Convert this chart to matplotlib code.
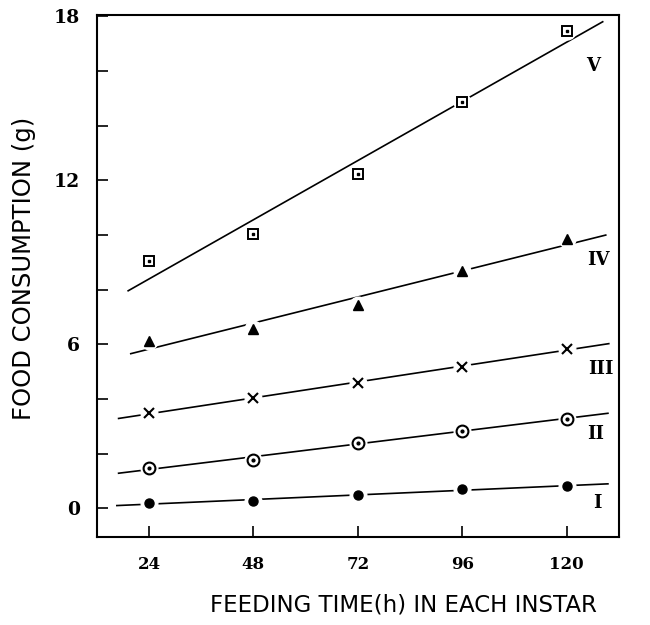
import numpy as np
import matplotlib
matplotlib.use('Agg')
import matplotlib.pyplot as plt

# feeding time (h) and food consumption (g) for each instar
hours = [24, 48, 72, 96, 120]
instar_1 = [0.18, 0.27, 0.47, 0.70, 0.81]
instar_2 = [1.47, 1.78, 2.39, 2.84, 3.28]
instar_3 = [3.50, 4.02, 4.57, 5.17, 5.84]
instar_4 = [6.13, 6.56, 7.44, 8.68, 9.84]
instar_5 = [9.04, 10.03, 12.22, 14.87, 17.45]
labels = ['I', 'II', 'III', 'IV', 'V']

series = [instar_1, instar_2, instar_3, instar_4, instar_5]
line_start = [16.6, 17.0, 17.0, 19.8, 19.2]
line_end = [129.5, 129.5, 129.7, 129.0, 128.3]
label_pos = [(127, 0.18), (126.7, 2.73), (127.8, 5.1), (127.4, 9.1), (126, 16.2)]

fig = plt.figure(figsize=(6.5, 6.25), dpi=100)
ax = fig.add_axes([0.149, 0.141, 0.803, 0.835])

x = np.array(hours)
for i, ys in enumerate(series):
    ys = np.array(ys)
    slope, icpt = np.polyfit(x, ys, 1)
    xx = np.array([line_start[i], line_end[i]])
    ax.plot(xx, slope * xx + icpt, color='black', lw=1.2, zorder=1)
    # white halo so the line breaks around each marker
    ax.plot(x, ys, ls='none', marker='o', ms=12, mfc='white', mec='white', zorder=2)
    if i == 0:
        ax.plot(x, ys, ls='none', marker='o', ms=6.5, color='black', zorder=3)
    elif i == 1:
        ax.plot(x, ys, ls='none', marker='o', ms=8.5, mfc='white', mec='black', mew=1.5, zorder=3)
        ax.plot(x, ys, ls='none', marker='o', ms=2, color='black', zorder=4)
    elif i == 2:
        ax.plot(x, ys, ls='none', marker='x', ms=6.5, mec='black', mew=1.5, zorder=3)
    elif i == 3:
        ax.plot(x, ys, ls='none', marker='^', ms=7.5, color='black', zorder=3)
    else:
        ax.plot(x, ys, ls='none', marker='s', ms=7, mfc='white', mec='black', mew=1.4, zorder=3)
        ax.plot(x, ys, ls='none', marker='s', ms=1.5, color='black', zorder=4)
    ax.text(label_pos[i][0], label_pos[i][1], labels[i], ha='center', va='center',
            family='DejaVu Serif', fontweight='bold', fontsize=13)

ax.set_xlim(12, 132)
ax.set_ylim(-1.05, 18.05)
ax.set_xticks(hours)
ax.set_yticks([0, 6, 12, 18])
ax.set_yticks([2, 4, 8, 10, 14, 16], minor=True)
ax.tick_params(axis='both', direction='in', length=8, width=1.2, labelsize=12, pad=14)
ax.tick_params(axis='y', which='minor', direction='in', length=8, width=1.2)
ax.tick_params(axis='y', pad=12, labelsize=13.5)
for lab in ax.get_xticklabels() + ax.get_yticklabels():
    lab.set_fontweight('bold')
    lab.set_family('DejaVu Serif')

for side in ['top', 'right', 'left', 'bottom']:
    ax.spines[side].set_linewidth(1.5)

fig.text(0.037, 0.57, 'FOOD CONSUMPTION (g)', rotation=90, ha='center', va='center',
         fontsize=17.5, family='DejaVu Sans')
fig.text(0.621, 0.032, 'FEEDING TIME(h) IN EACH INSTAR', ha='center', va='center',
         fontsize=16.5, family='DejaVu Sans')

fig.savefig('out.png', dpi=100)
